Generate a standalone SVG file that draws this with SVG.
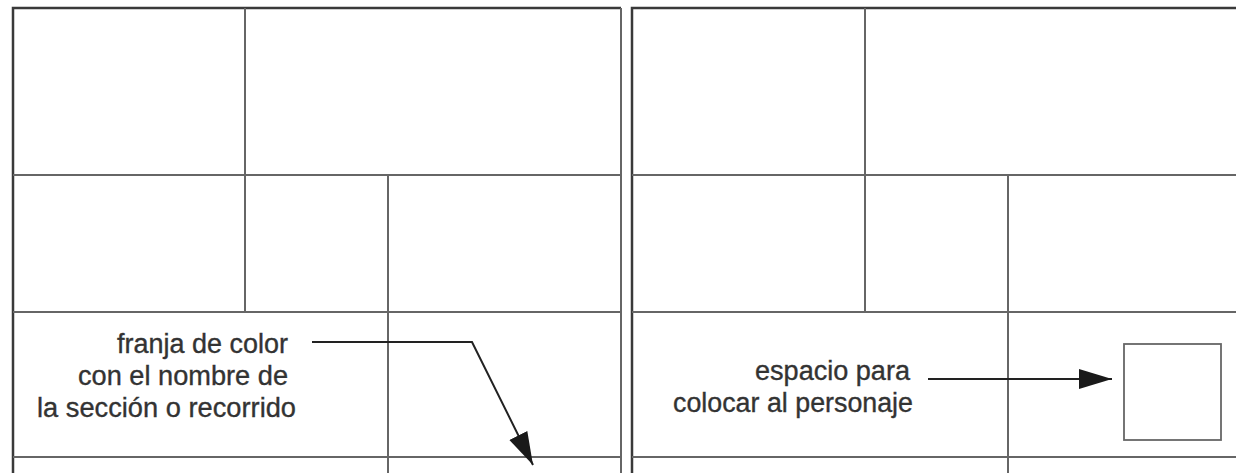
<svg xmlns="http://www.w3.org/2000/svg" width="1236" height="473" viewBox="0 0 1236 473">
  <style>
    .grid { stroke: #666; stroke-width: 2; fill: none; }
    .frame { stroke: #3a3a3a; stroke-width: 2.5; fill: none; }
    .lbl { font-family: "Liberation Sans", Arial, sans-serif; font-size: 27px; fill: #333; stroke: #333; stroke-width: 0.35; }
    .conn { stroke: #222; stroke-width: 2; fill: none; }
    .box { stroke: #666; stroke-width: 1.8; fill: #fff; }
  </style>
  <defs>
    <marker id="arrow" markerUnits="userSpaceOnUse" markerWidth="36" markerHeight="22" refX="33" refY="10" orient="auto">
      <polygon points="0,0 33,10 0,20" fill="#1a1a1a"/>
    </marker>
  </defs>
  <rect width="1236" height="473" fill="#fff"/>

  <g id="left-panel">
    <path class="frame" d="M13,480 V8 H621"/>
    <line class="grid" x1="621" y1="8" x2="621" y2="480"/>
    <line class="grid" x1="13" y1="175" x2="621" y2="175"/>
    <line class="grid" x1="13" y1="312" x2="621" y2="312"/>
    <line class="grid" x1="13" y1="457" x2="621" y2="457"/>
    <line class="grid" x1="245" y1="8" x2="245" y2="312"/>
    <line class="grid" x1="388" y1="175" x2="388" y2="480"/>
  </g>

  <g id="right-panel">
    <path class="frame" d="M632,480 V8 H1240"/>
    <line class="grid" x1="632" y1="175" x2="1240" y2="175"/>
    <line class="grid" x1="632" y1="312" x2="1240" y2="312"/>
    <line class="grid" x1="632" y1="457" x2="1240" y2="457"/>
    <line class="grid" x1="865" y1="8" x2="865" y2="312"/>
    <line class="grid" x1="1008" y1="175" x2="1008" y2="480"/>
  </g>

  <g id="character-space">
    <rect class="box" x="1124" y="344" width="97" height="96"/>
  </g>

  <g id="label-franja">
    <text class="lbl" x="117" y="353" textLength="171" lengthAdjust="spacingAndGlyphs">franja de color</text>
    <text class="lbl" x="78" y="385" textLength="210" lengthAdjust="spacingAndGlyphs">con el nombre de</text>
    <text class="lbl" x="37" y="417" textLength="259" lengthAdjust="spacingAndGlyphs">la sección o recorrido</text>
  </g>

  <g id="label-espacio">
    <text class="lbl" x="755" y="380" textLength="155" lengthAdjust="spacingAndGlyphs">espacio para</text>
    <text class="lbl" x="673" y="412" textLength="240" lengthAdjust="spacingAndGlyphs">colocar al personaje</text>
  </g>

  <g id="connectors">
    <polyline class="conn" points="312,342 472,342 533,465" marker-end="url(#arrow)"/>
    <line class="conn" x1="928" y1="379" x2="1112" y2="379" marker-end="url(#arrow)"/>
  </g>
</svg>
